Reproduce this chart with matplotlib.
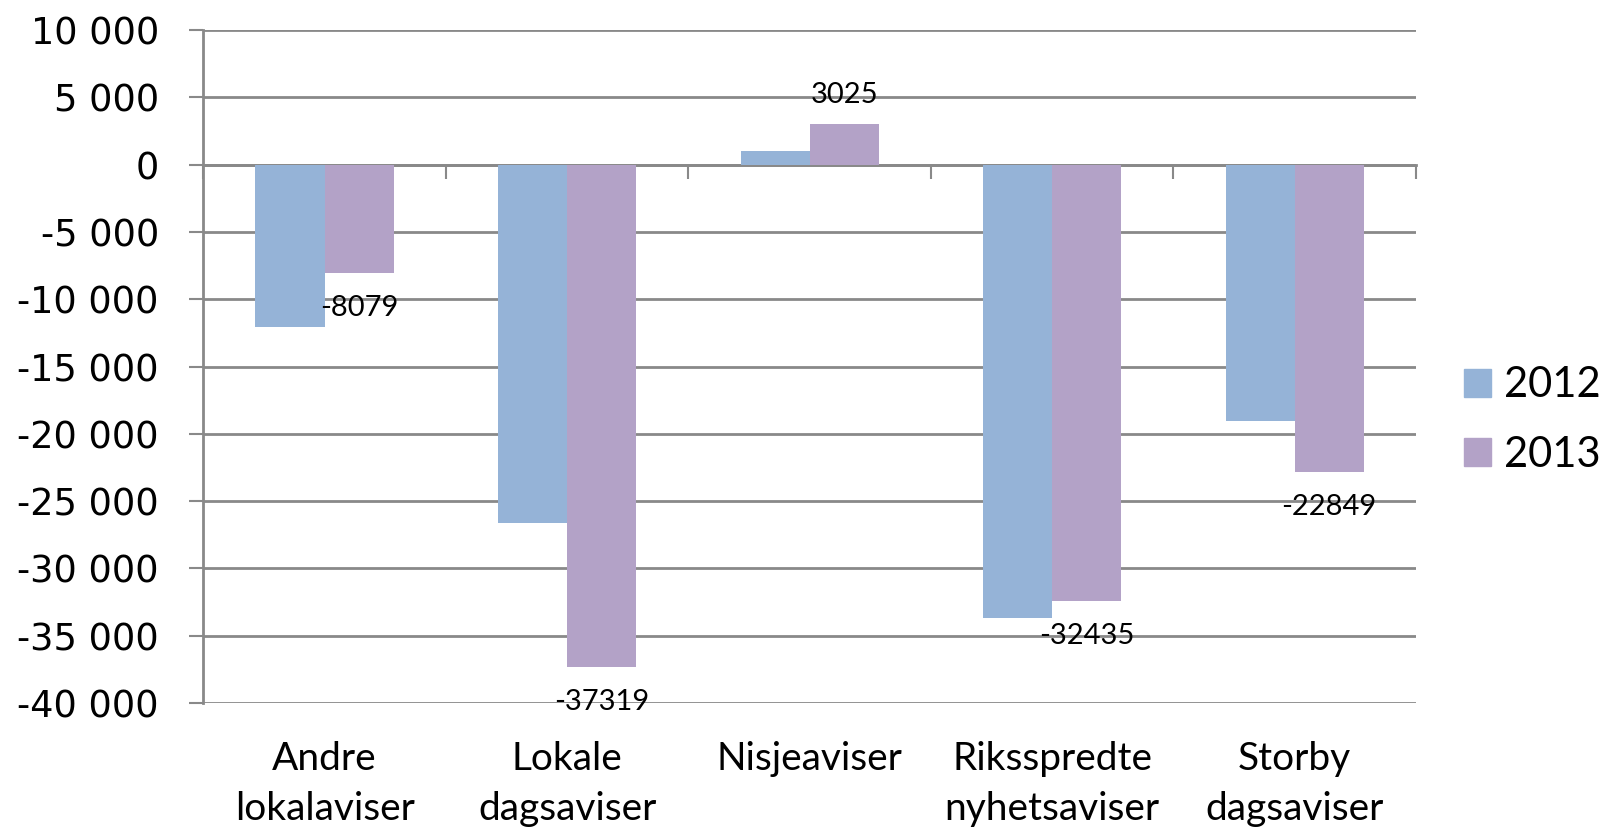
import numpy as np
import matplotlib
matplotlib.use('Agg')
import matplotlib.pyplot as plt
from matplotlib.patches import Patch
from matplotlib.ticker import FuncFormatter

categories = ['Andre\nlokalaviser', 'Lokale\ndagsaviser', 'Nisjeaviser',
              'Riksspredte\nnyhetsaviser', 'Storby\ndagsaviser']
years = ['2012', '2013']
v2012 = [-12100, -26650, 1000, -33650, -19050]
v2013 = [-8079, -37319, 3025, -32435, -22849]

blue = '#95B3D7'
purple = '#B3A2C7'
grid_col = '#898989'

fig = plt.figure(figsize=(16.05, 8.31), dpi=100)
ax = fig.add_axes([0.1267, 0.154, 0.8822 - 0.1267, 0.9639 - 0.154])

x = np.arange(len(categories))
w = 0.285
ax.bar(x - w / 2, v2012, w, color=blue, zorder=3)
ax.bar(x + w / 2, v2013, w, color=purple, zorder=3)

# data labels only for 2013
for xi, v in zip(x, v2013):
    off = 21 if v > 0 else -25
    ax.annotate(str(v), (xi + w / 2, v), xytext=(0, off), textcoords='offset points',
                ha='center', va='center', fontsize=21, family='Lato', zorder=4)

ax.set_xlim(-0.5, len(categories) - 0.5)
ax.set_ylim(-40000, 10000)
ax.set_yticks(np.arange(-40000, 10001, 5000))
ax.yaxis.set_major_formatter(FuncFormatter(lambda v, p: '{:,}'.format(int(v)).replace(',', ' ')))
ax.grid(axis='y', color=grid_col, linewidth=2, zorder=0)
ax.tick_params(axis='y', direction='out', length=10, width=1.5, color=grid_col,
               pad=22, labelsize=26.5)
for lab in ax.get_yticklabels():
    lab.set_family('DejaVu Sans')

# horizontal axis sits at zero, category boundaries marked there
for s in ['top', 'right']:
    ax.spines[s].set_visible(False)
ax.spines['left'].set_color(grid_col)
ax.spines['left'].set_linewidth(2)
ax.spines['bottom'].set_position(('data', 0))
ax.spines['bottom'].set_color(grid_col)
ax.spines['bottom'].set_linewidth(2)
ax.set_xticks(np.arange(len(categories) + 1) - 0.5)
ax.set_xticklabels([])
ax.tick_params(axis='x', direction='out', length=10, width=1.5, color=grid_col)

for xi, c in zip(x, categories):
    ax.text(xi, -0.056, c, transform=ax.get_xaxis_transform(), ha='center', va='top',
            fontsize=28, family='Lato', linespacing=1.5)

handles = [Patch(color=blue), Patch(color=purple)]
fig.legend(handles, years, loc='center left', bbox_to_anchor=(1464 / 1605, 0.4946),
           frameon=False, prop={'family': 'Lato', 'size': 30}, handlelength=0.65,
           handleheight=0.65, handletextpad=0.3, labelspacing=0.75,
           borderpad=0, borderaxespad=0)

fig.savefig('out.png', dpi=100)
